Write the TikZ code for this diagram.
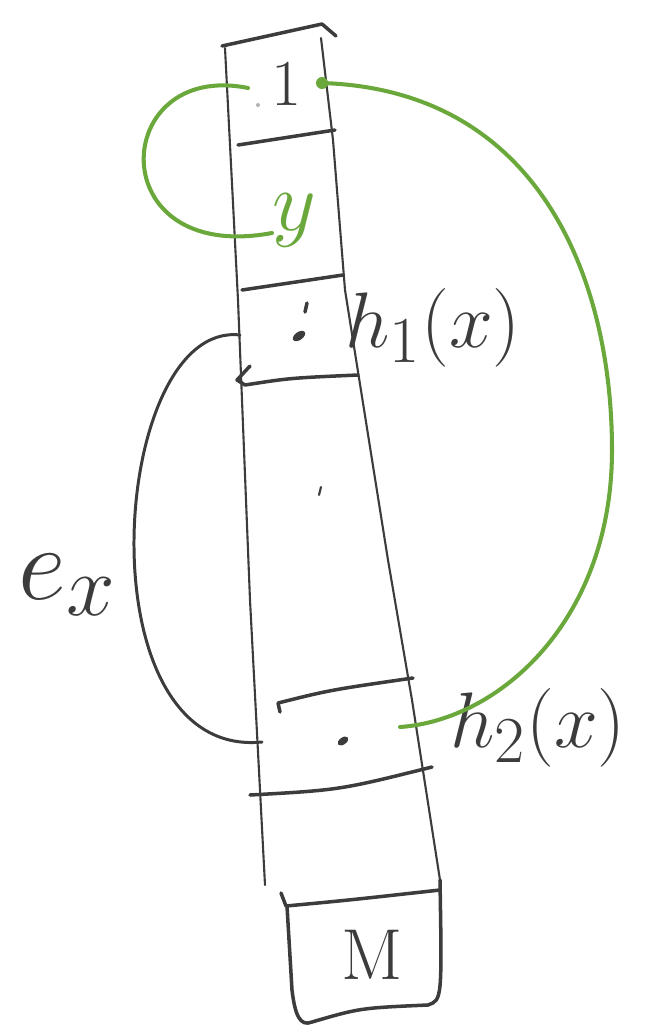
\documentclass[tikz,border=0pt]{standalone}
\usetikzlibrary{positioning}
\definecolor{greenink}{HTML}{6AA83C}
\definecolor{grayink}{HTML}{3C3C3C}
\tikzset{
  edgeline/.style={grayink,line width=1.2pt,line cap=round,line join=round},
  rungline/.style={grayink,line width=2pt,line cap=round,line join=round},
  cellmark/.style={font=\Huge,scale=1.5,inner sep=0pt,text=grayink},
  greenarc/.style={greenink,line width=2.3pt,line cap=round},
  grayarc/.style={grayink,line width=1.7pt,line cap=round},
}
\begin{document}
\begin{tikzpicture}[x=0.02cm,y=-0.02cm]
\useasboundingbox (0,0) rectangle (654,1029);
% column edges
\draw[edgeline] (225,48) -- (238,300) -- (250,600) -- (265,885);
\draw[edgeline] (321,38) -- (333,140) -- (345,290) -- (388,560) -- (412,700) -- (440,880);
% top and cell borders
\draw[rungline] (222,46) -- (322,24) -- (336,36);
\draw[rungline] (238,145) -- (335,130);
\draw[rungline] (242,290) -- (343,275);
\draw[rungline] (250,366) -- (237,380) -- (245,385) .. controls (290,378) .. (358,375);
\draw[rungline] (280,712) -- (278,703) .. controls (330,690) .. (413,678);
\draw[rungline] (250,795) .. controls (340,790) .. (432,767);
% last cell
\draw[rungline] (281,893) -- (286,906) .. controls (350,900) .. (440,890);
\draw[rungline] (287,906) -- (292,990) .. controls (295,1015) and (300,1027) .. (312,1022)
  .. controls (360,1008) .. (428,1005) .. controls (442,1000) .. (440,880);
% entries
\node[cellmark] (one) at (287,84) {1};
\node[cellmark,scale=1.3,text=greenink] (yv) at (294,220) {$y$};
\node[cellmark,scale=1.2] (hone) at (433,328) {$h_1(x)$};
\node[cellmark,scale=1.2] (htwo) at (538,728) {$h_2(x)$};
\node[cellmark,scale=1.6] (ex) at (68,585) {$e_x$};
\node[cellmark,scale=1.1] (M) at (372,955) {M};
% marks
\fill[gray!60] (258,105) circle (2);
\fill[grayink,rotate around={35:(299,336)}] (299,336) ellipse [x radius=7,y radius=4];
\draw[rungline] (307,303) -- (305,312);
\fill[grayink,rotate around={35:(343,741)}] (343,741) ellipse [x radius=6,y radius=3.5];
\draw[edgeline] (321,487) -- (319,495);
% links
\coordinate (oneL) at (248,88);
\coordinate (oneR) at (322,83);
\coordinate (yL) at (272,233);
\coordinate (htwoL) at (400,727);
\coordinate (honeL) at (240,335);
\coordinate (htwoLL) at (262,742);
\fill[greenink] (oneR) circle (6);
\draw[greenarc] (oneL) .. controls (110,60) and (100,265) .. (yL);
\draw[greenarc] (oneR) .. controls (540,90) and (612,280) .. (612,450)
  .. controls (612,620) and (500,720) .. (htwoL);
\draw[grayarc] (honeL) .. controls (110,320) and (80,760) .. (htwoLL);
\end{tikzpicture}
\end{document}
